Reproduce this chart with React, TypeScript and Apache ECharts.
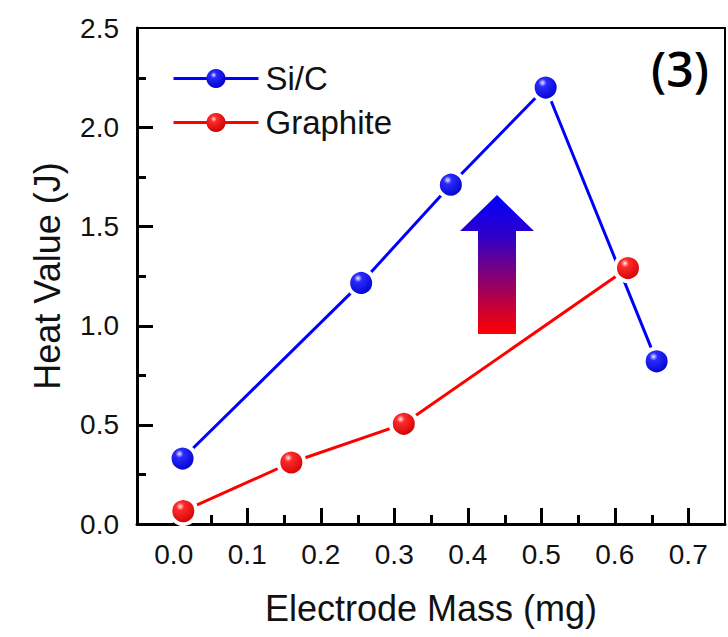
import React, { useEffect, useRef } from "react";
import * as echarts from "echarts";

const siCMass = [0.012, 0.255, 0.377, 0.506, 0.657];
const siCHeat = [0.33, 1.215, 1.71, 2.2, 0.82];
const graphiteMass = [0.013, 0.16, 0.313, 0.618];
const graphiteHeat = [0.065, 0.31, 0.505, 1.29];
const seriesNames = ["Si/C", "Graphite"];
const xMajorTicks = [0, 0.1, 0.2, 0.3, 0.4, 0.5, 0.6, 0.7];
const xMinorTicks = [0.05, 0.15, 0.25, 0.35, 0.45, 0.55, 0.65];
const yMajorTicks = [0.5, 1.0, 1.5, 2.0];
const yMinorTicks = [0.25, 0.75, 1.25, 1.75, 2.25];
const xTitle = "Electrode Mass (mg)";
const yTitle = "Heat Value (J)";
const panelLabel = "(3)";

const FONT = "'Liberation Sans', Arial, sans-serif";
const X_MIN = -0.05;
const X_MAX = 0.75;
const Y_MIN = 0;
const Y_MAX = 2.5;

function sphere(light: string, mid: string, dark: string) {
  return new echarts.graphic.RadialGradient(0.38, 0.32, 0.7, [
    { offset: 0, color: light },
    { offset: 0.22, color: mid },
    { offset: 1, color: dark },
  ]);
}

function xTickSeries(values: number[], len: number) {
  return {
    type: "custom",
    coordinateSystem: "cartesian2d",
    silent: true,
    clip: false,
    z: 4,
    data: values.map((v) => [v, Y_MIN]),
    encode: { x: 0, y: 1 },
    renderItem: (params: any, api: any) => {
      const p = api.coord([api.value(0), Y_MIN]);
      const x = Math.round(p[0]) + 0.5;
      const y = Math.round(p[1]);
      return {
        type: "line",
        shape: { x1: x, y1: y, x2: x, y2: y - len },
        style: { stroke: "#000000", lineWidth: 3 },
      };
    },
  };
}

function yTickSeries(values: number[], len: number) {
  return {
    type: "custom",
    coordinateSystem: "cartesian2d",
    silent: true,
    clip: false,
    z: 4,
    data: values.map((v) => [X_MIN, v]),
    encode: { x: 0, y: 1 },
    renderItem: (params: any, api: any) => {
      const p = api.coord([X_MIN, api.value(1)]);
      const x = Math.round(p[0]);
      const y = Math.round(p[1]) + 0.5;
      return {
        type: "line",
        shape: { x1: x, y1: y, x2: x + len, y2: y },
        style: { stroke: "#000000", lineWidth: 3 },
      };
    },
  };
}

export default function App() {
  const ref = useRef<HTMLDivElement>(null);
  useEffect(() => {
    if (!ref.current) return;
    const chart = echarts.init(ref.current, null, { renderer: "svg" });
    const siData = siCMass.map((m, i) => [m, siCHeat[i]]);
    const grData = graphiteMass.map((m, i) => [m, graphiteHeat[i]]);
    const tickLabel = (v: number) => {
      const r = Math.round(v * 10) / 10;
      if (Math.abs(r - v) > 1e-6) return "";
      return r.toFixed(1);
    };
    const xScale = { type: "value", min: X_MIN, max: X_MAX, splitNumber: 8, minInterval: 0.1, maxInterval: 0.1 };
    const yScale = { type: "value", min: Y_MIN, max: Y_MAX, interval: 0.5 };
    const hidden = {
      axisLabel: { show: false },
      splitLine: { show: false },
      minorSplitLine: { show: false },
      axisTick: { show: false },
    };
    const borderLine = { show: true, onZero: false, lineStyle: { color: "#000", width: 2 } };
    chart.setOption({
      animation: false,
      grid: { left: 137, top: 28, right: 2, bottom: 113 },
      legend: {
        orient: "vertical",
        left: 172,
        top: 62,
        padding: 0,
        itemWidth: 85,
        itemHeight: 24,
        itemGap: 11,
        itemStyle: { borderWidth: 0 },
        lineStyle: { width: 3 },
        textStyle: { fontFamily: FONT, fontSize: 33, color: "#111", padding: [0, 0, 0, 2] },
        data: seriesNames,
      },
      xAxis: [
        {
          ...xScale,
          position: "bottom",
          name: xTitle,
          nameLocation: "middle",
          nameGap: 66,
          nameTextStyle: { fontFamily: FONT, fontSize: 36, color: "#111" },
          axisLine: { show: true, onZero: false, lineStyle: { color: "#000", width: 3 } },
          axisTick: { show: false },
          axisLabel: { fontFamily: FONT, fontSize: 28, color: "#111", margin: 16, formatter: tickLabel },
          splitLine: { show: false },
        },
        { ...xScale, ...hidden, position: "top", axisLine: borderLine },
      ],
      yAxis: [
        {
          ...yScale,
          position: "left",
          name: yTitle,
          nameLocation: "middle",
          nameGap: 72,
          nameTextStyle: { fontFamily: FONT, fontSize: 36, color: "#111" },
          axisLine: { show: true, onZero: false, lineStyle: { color: "#000", width: 3 } },
          axisTick: { show: false },
          axisLabel: { fontFamily: FONT, fontSize: 28, color: "#111", margin: 18, formatter: (v: number) => v.toFixed(1) },
          splitLine: { show: false },
        },
        { ...yScale, ...hidden, position: "right", axisLine: borderLine },
      ],
      series: [
        xTickSeries(xMajorTicks, 16),
        xTickSeries(xMinorTicks, 9),
        yTickSeries(yMajorTicks, 16),
        yTickSeries(yMinorTicks, 9),
        {
          name: seriesNames[0],
          type: "line",
          data: siData,
          symbol: "circle",
          symbolSize: 26,
          lineStyle: { color: "#0000ff", width: 3 },
          itemStyle: { color: sphere("#e8e8ff", "#2a2aff", "#0000c8"), borderColor: "#fff", borderWidth: 4 },
          z: 5,
        },
        {
          name: seriesNames[1],
          type: "line",
          data: grData,
          symbol: "circle",
          symbolSize: 26,
          lineStyle: { color: "#ff0000", width: 3 },
          itemStyle: { color: sphere("#ffe8e8", "#ff2a2a", "#d00000"), borderColor: "#fff", borderWidth: 4 },
          z: 6,
        },
      ],
      graphic: [
        {
          type: "text",
          left: 651,
          top: 44,
          style: {
            text: panelLabel,
            fontFamily: "'Open Sans', sans-serif",
            fontWeight: 600,
            fontSize: 48,
            fill: "#000",
          },
        },
        {
          type: "polygon",
          shape: {
            points: [
              [497, 195],
              [534, 231],
              [516, 231],
              [516, 334],
              [478, 334],
              [478, 231],
              [460, 231],
            ],
          },
          style: {
            fill: new echarts.graphic.LinearGradient(0, 0, 0, 1, [
              { offset: 0, color: "#0000ff" },
              { offset: 0.3, color: "#3000c8" },
              { offset: 1, color: "#ff0000" },
            ]),
          },
        },
      ],
    });
    return () => chart.dispose();
  }, []);
  return <div ref={ref} style={{ width: 728, height: 637, position: "absolute", left: 0, top: 0 }} />;
}
